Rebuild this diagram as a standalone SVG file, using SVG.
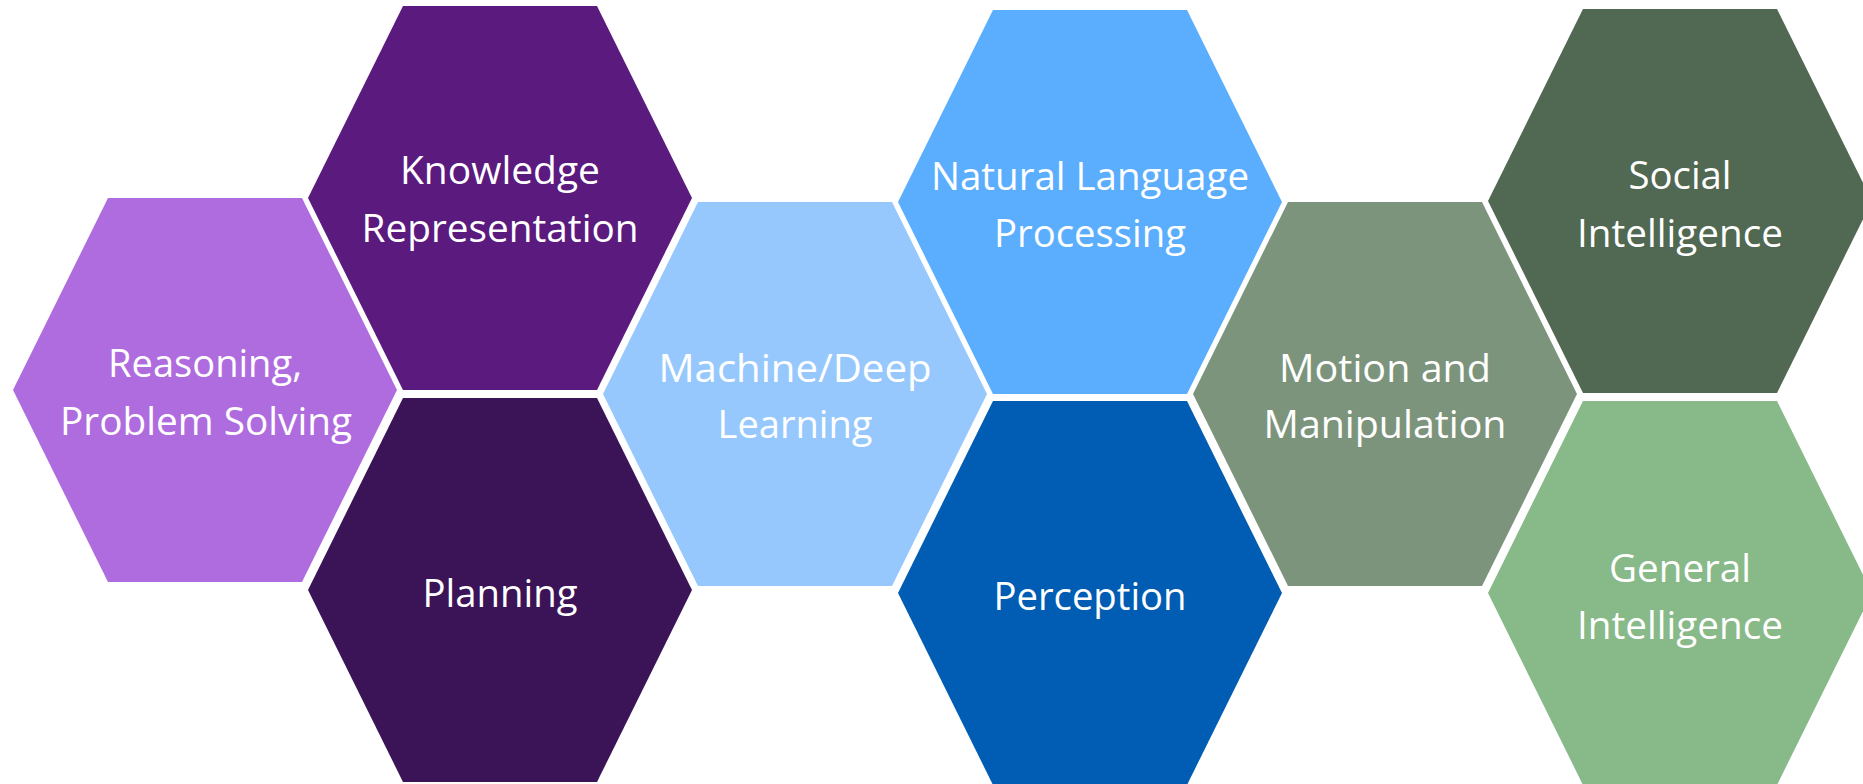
<svg xmlns="http://www.w3.org/2000/svg" width="1863" height="784" viewBox="0 0 1863 784">
<style>
.t{font-family:"Open Sans","Liberation Sans",sans-serif;font-size:39px;fill:#ffffff;text-anchor:middle}
</style>
<defs>
<polygon id="hex" points="-192,0 -97,-192 97,-192 192,0 97,192 -97,192"/>
</defs>
<rect width="1863" height="784" fill="#ffffff"/>
<g id="connectors"></g>
<g id="reasoning">
<use href="#hex" transform="translate(205,390)" fill="#AF6CDF"/>
<text class="t" x="205" y="377" textLength="194" lengthAdjust="spacingAndGlyphs">Reasoning,</text>
<text class="t" x="206" y="435" textLength="292" lengthAdjust="spacingAndGlyphs">Problem Solving</text>
</g>
<g id="knowledge">
<use href="#hex" transform="translate(500,198)" fill="#5A1A7E"/>
<text class="t" x="500" y="184" textLength="200" lengthAdjust="spacingAndGlyphs">Knowledge</text>
<text class="t" x="500" y="242" textLength="277" lengthAdjust="spacingAndGlyphs">Representation</text>
</g>
<g id="planning">
<use href="#hex" transform="translate(500,590)" fill="#3B1357"/>
<text class="t" x="500" y="607" textLength="155" lengthAdjust="spacingAndGlyphs">Planning</text>
</g>
<g id="machine">
<use href="#hex" transform="translate(795,394)" fill="#96C8FD"/>
<text class="t" x="795" y="382" textLength="273" lengthAdjust="spacingAndGlyphs">Machine/Deep</text>
<text class="t" x="795" y="438" textLength="155" lengthAdjust="spacingAndGlyphs">Learning</text>
</g>
<g id="nlp">
<use href="#hex" transform="translate(1090,202)" fill="#5BAEFE"/>
<text class="t" x="1090" y="190" textLength="318" lengthAdjust="spacingAndGlyphs">Natural Language</text>
<text class="t" x="1090" y="247" textLength="192" lengthAdjust="spacingAndGlyphs">Processing</text>
</g>
<g id="perception">
<use href="#hex" transform="translate(1090,593)" fill="#005DB3"/>
<text class="t" x="1090" y="610" textLength="193" lengthAdjust="spacingAndGlyphs">Perception</text>
</g>
<g id="motion">
<use href="#hex" transform="translate(1385,394)" fill="#7C947C"/>
<text class="t" x="1385" y="382" textLength="212" lengthAdjust="spacingAndGlyphs">Motion and</text>
<text class="t" x="1385" y="438" textLength="243" lengthAdjust="spacingAndGlyphs">Manipulation</text>
</g>
<g id="social">
<use href="#hex" transform="translate(1680,201)" fill="#516852"/>
<text class="t" x="1680" y="189" textLength="103" lengthAdjust="spacingAndGlyphs">Social</text>
<text class="t" x="1680" y="247" textLength="206" lengthAdjust="spacingAndGlyphs">Intelligence</text>
</g>
<g id="general">
<use href="#hex" transform="translate(1680,593)" fill="#88B988"/>
<text class="t" x="1680" y="582" textLength="142" lengthAdjust="spacingAndGlyphs">General</text>
<text class="t" x="1680" y="639" textLength="206" lengthAdjust="spacingAndGlyphs">Intelligence</text>
</g>
</svg>
